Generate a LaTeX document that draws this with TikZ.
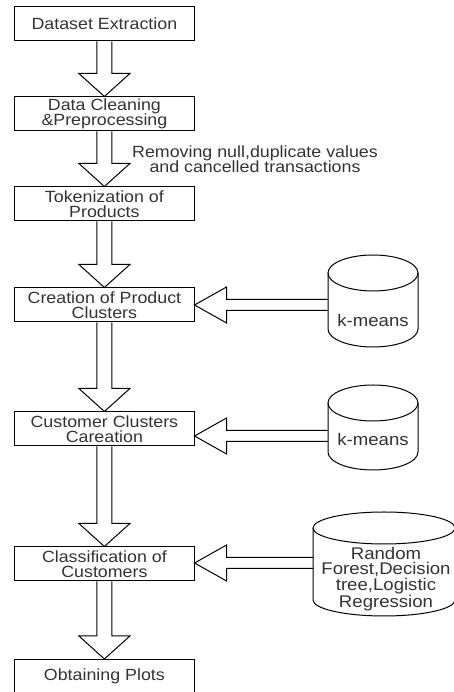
\documentclass[tikz,border=0pt]{standalone}
\usepackage{fontspec}
\setmainfont{Liberation Sans}[FakeStretch=1.1]
\usetikzlibrary{calc}

% hollow block arrow from one box down to the next
\newcommand{\flowarrow}[2]{%
  \draw let \p1=(#1.south), \p2=(#2.north) in
    (\x1-7.5,\y1) -- (\x1-7.5,\y2+23) -- (\x1-25.5,\y2+23) -- (\x2,\y2)
    -- (\x1+25.5,\y2+23) -- (\x1+7.5,\y2+23) -- (\x1+7.5,\y1);}
% hollow block arrow from a cylinder leftwards into a box
\newcommand{\sidearrow}[2]{%
  \draw let \p1=(#1), \p2=(#2.east) in
    (\x1,\y1+5.5) -- (\x2+32,\y1+5.5) -- (\x2+32,\y1+18) -- (\x2,\y1)
    -- (\x2+32,\y1-18) -- (\x2+32,\y1-5.5) -- (\x1,\y1-5.5);}

\begin{document}
\begin{tikzpicture}[x=1pt,y=1pt,line width=1pt,
  stepbox/.style={draw,minimum width=179.3pt,minimum height=34pt,inner sep=0pt,
    align=center,text=black!80,font=\fontsize{16.2}{15.5}\selectfont},
  plain/.style={inner sep=0pt,align=center,text=black!80,font=\fontsize{16.2}{15.2}\selectfont},
  store/.style={inner sep=0pt,align=center,text=black!80,font=\fontsize{16.9}{15.7}\selectfont}]
\useasboundingbox (0,0) rectangle (454,692);

\node[stepbox] (extract) at (104.4,668) {Dataset Extraction};
\node[stepbox] (clean) at (104.4,578) {Data Cleaning\\\&Preprocessing};
\node[stepbox] (token) at (104.4,488) {Tokenization of\\Products};
\node[stepbox] (prodclust) at (104.4,387) {Creation of Product\\Clusters};
\node[stepbox] (custclust) at (104.4,263) {Customer Clusters\\Careation};
\node[stepbox] (classify) at (104.4,128) {Classification of\\Customers};
\node[stepbox] (plots) at (104.4,15.5) {Obtaining Plots};

\flowarrow{extract}{clean}
\flowarrow{clean}{token}
\flowarrow{token}{prodclust}
\flowarrow{prodclust}{custclust}
\flowarrow{custclust}{classify}
\flowarrow{classify}{plots}

\node[plain] (note) at (255,532.5) {Removing null,duplicate values\\and cancelled transactions};

% first k-means store
\draw (328,419) -- (328,363) arc[start angle=180,end angle=360,x radius=45,y radius=18] -- (418,419);
\draw (373,419) ellipse[x radius=45,y radius=18];
\node[store] (kmeansA) at (373,372) {k-means};
\coordinate (kmeansAin) at (328,387);

% second k-means store
\draw (328,289) -- (328,240) arc[start angle=180,end angle=360,x radius=45,y radius=18] -- (418,289);
\draw (373,289) ellipse[x radius=45,y radius=18];
\node[store] (kmeansB) at (373,253) {k-means};
\coordinate (kmeansBin) at (328,256);

% classifiers store
\draw (313,164) -- (313,92) arc[start angle=180,end angle=360,x radius=71,y radius=16] -- (455,164);
\draw (384,164) ellipse[x radius=71,y radius=16];
\node[store] (models) at (386,113) {Random\\Forest,Decision\\tree,Logistic\\Regression};
\coordinate (modelsin) at (313,129);

\sidearrow{kmeansAin}{prodclust}
\sidearrow{kmeansBin}{custclust}
\sidearrow{modelsin}{classify}
\end{tikzpicture}
\end{document}
